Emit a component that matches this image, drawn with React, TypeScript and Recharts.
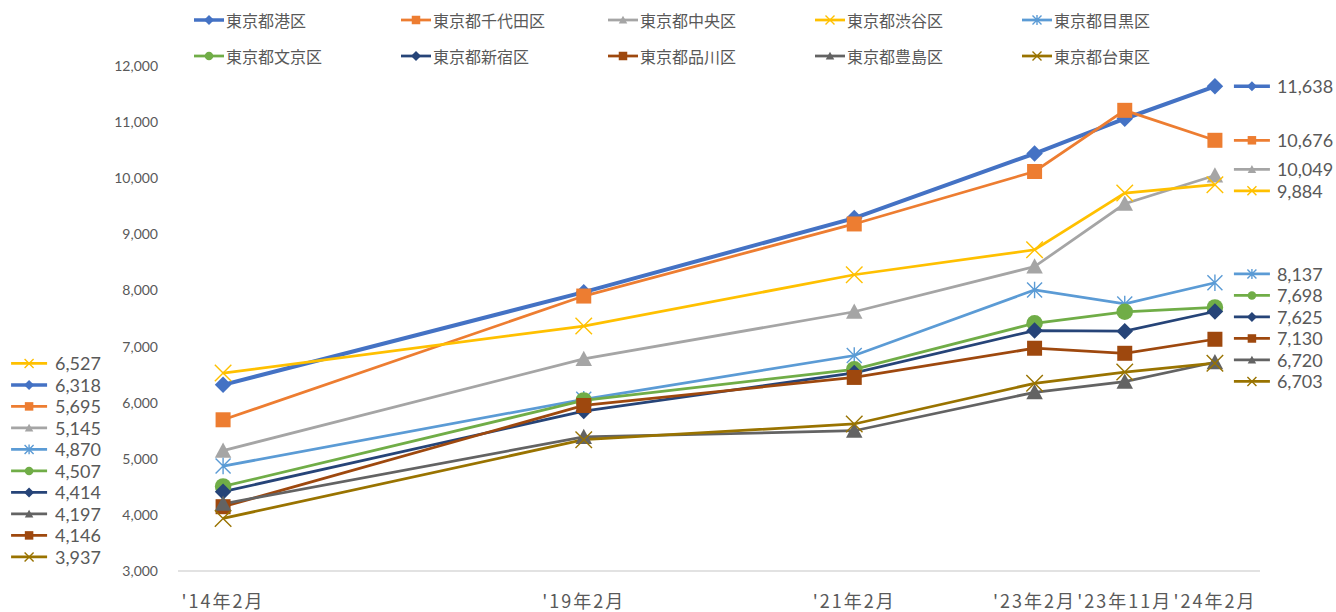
import React from 'react'
import { LineChart, Line, XAxis, YAxis } from 'recharts'

// survey periods and their slot on the (uneven) category axis
const periods = ["'14年2月", "'19年2月", "'21年2月", "'23年2月", "'23年11月", "'24年2月"]
const slots = [0, 4, 7, 9, 10, 11]
const yTicks = [3000, 4000, 5000, 6000, 7000, 8000, 9000, 10000, 11000, 12000]

const minato = [6318, 7970, 9290, 10440, 11060, 11638]
const chiyoda = [5695, 7900, 9185, 10120, 11210, 10676]
const chuo = [5145, 6780, 7620, 8425, 9545, 10049]
const shibuya = [6527, 7365, 8280, 8725, 9735, 9884]
const meguro = [4870, 6060, 6840, 8010, 7760, 8137]
const bunkyo = [4507, 6040, 6595, 7415, 7620, 7698]
const shinjuku = [4414, 5850, 6530, 7285, 7275, 7625]
const shinagawa = [4146, 5950, 6450, 6970, 6880, 7130]
const toshima = [4197, 5390, 5500, 6185, 6375, 6720]
const taito = [3937, 5340, 5620, 6345, 6545, 6703]

type Shape = 'diamond' | 'square' | 'triangle' | 'x' | 'star' | 'circle'

const series: { key: string; name: string; values: number[]; color: string; shape: Shape; width: number }[] = [
  { key: 'minato', name: '東京都港区', values: minato, color: '#4472C4', shape: 'diamond', width: 4 },
  { key: 'chiyoda', name: '東京都千代田区', values: chiyoda, color: '#ED7D31', shape: 'square', width: 2.75 },
  { key: 'chuo', name: '東京都中央区', values: chuo, color: '#A5A5A5', shape: 'triangle', width: 2.75 },
  { key: 'shibuya', name: '東京都渋谷区', values: shibuya, color: '#FFC000', shape: 'x', width: 2.75 },
  { key: 'meguro', name: '東京都目黒区', values: meguro, color: '#5B9BD5', shape: 'star', width: 2.75 },
  { key: 'bunkyo', name: '東京都文京区', values: bunkyo, color: '#70AD47', shape: 'circle', width: 2.75 },
  { key: 'shinjuku', name: '東京都新宿区', values: shinjuku, color: '#264478', shape: 'diamond', width: 2.75 },
  { key: 'shinagawa', name: '東京都品川区', values: shinagawa, color: '#9E480E', shape: 'square', width: 2.75 },
  { key: 'toshima', name: '東京都豊島区', values: toshima, color: '#636363', shape: 'triangle', width: 2.75 },
  { key: 'taito', name: '東京都台東区', values: taito, color: '#997300', shape: 'x', width: 2.75 },
]

const W = 1336
const H = 612
const MARGIN = { top: 66, right: 76, bottom: 0, left: 118 }
const Y_AXIS_W = 60
const X_AXIS_H = 41
const Y_MIN = 3000
const Y_MAX = 12000
const PX_PER_UNIT = (H - MARGIN.top - X_AXIS_H) / (Y_MAX - Y_MIN)
const LABEL_GAP = 21.5 / PX_PER_UNIT

const TEXT = '#595959'
const NUM_FONT = "Lato, 'Noto Sans CJK JP', sans-serif"
const JP_FONT = "'Noto Sans CJK JP', sans-serif"

const data = periods.map((p, i) => {
  const row: Record<string, number | string> = { slot: slots[i], period: p }
  series.forEach((s) => { row[s.key] = s.values[i] })
  return row
})

// push end labels apart so they don't overlap (values space)
function spreadLabels(vals: number[], gap: number): number[] {
  const order = vals.map((_, i) => i).sort((a, b) => vals[b] - vals[a])
  let clusters = order.map((i) => ({ members: [i], center: vals[i] }))
  let merged = true
  while (merged) {
    merged = false
    for (let c = 0; c < clusters.length - 1; c++) {
      const a = clusters[c]
      const b = clusters[c + 1]
      const bottomA = a.center - ((a.members.length - 1) / 2) * gap
      const topB = b.center + ((b.members.length - 1) / 2) * gap
      if (bottomA - topB < gap) {
        const members = [...a.members, ...b.members]
        const center = members.reduce((sum, i) => sum + vals[i], 0) / members.length
        clusters.splice(c, 2, { members, center })
        merged = true
        break
      }
    }
  }
  const out: number[] = new Array(vals.length)
  clusters.forEach((cl) =>
    cl.members.forEach((i, k) => { out[i] = cl.center + ((cl.members.length - 1) / 2 - k) * gap })
  )
  return out
}

const last = periods.length - 1
const leftSpread = spreadLabels(series.map((s) => s.values[0]), LABEL_GAP)
const rightSpread = spreadLabels(series.map((s) => s.values[last]), LABEL_GAP)

function Marker({ shape, cx, cy, size, color }: { shape: Shape; cx: number; cy: number; size: number; color: string }) {
  const r = size / 2
  switch (shape) {
    case 'diamond':
      return <path d={`M${cx},${cy - r}L${cx + r},${cy}L${cx},${cy + r}L${cx - r},${cy}Z`} fill={color} />
    case 'square':
      return <rect x={cx - r} y={cy - r} width={size} height={size} fill={color} />
    case 'triangle':
      return <path d={`M${cx},${cy - r}L${cx + r},${cy + r * 0.85}L${cx - r},${cy + r * 0.85}Z`} fill={color} />
    case 'circle':
      return <circle cx={cx} cy={cy} r={r} fill={color} />
    case 'x':
      return (
        <path d={`M${cx - r},${cy - r}L${cx + r},${cy + r}M${cx + r},${cy - r}L${cx - r},${cy + r}`}
          stroke={color} strokeWidth={1.4} fill="none" />
      )
    case 'star':
      return (
        <path d={`M${cx - r},${cy - r}L${cx + r},${cy + r}M${cx + r},${cy - r}L${cx - r},${cy + r}M${cx},${cy - r * 1.1}L${cx},${cy + r * 1.1}`}
          stroke={color} strokeWidth={1.4} fill="none" />
      )
  }
  return null
}

function KeyIcon({ s, x1, x2, y, lw }: { s: typeof series[number]; x1: number; x2: number; y: number; lw: number }) {
  const mid = (x1 + x2) / 2
  const small = s.shape === 'x' || s.shape === 'star' ? 9 : s.shape === 'diamond' ? 10 : 8.5
  return (
    <g>
      <line x1={x1} x2={x2} y1={y} y2={y} stroke={s.color} strokeWidth={lw} />
      <Marker shape={s.shape} cx={mid} cy={y} size={small} color={s.color} />
    </g>
  )
}

const makeDot = (s: typeof series[number], si: number) => (p: any) => {
  const { cx, cy, index } = p
  if (cx == null || cy == null) return <g key={`${s.key}-${index}`} />
  const size = s.shape === 'square' ? 15 : s.shape === 'star' ? 15 : 16.5
  let side: React.ReactNode = null
  if (index === 0 || index === last) {
    const value = s.values[index]
    const disp = index === 0 ? leftSpread[si] : rightSpread[si]
    const ly = cy - (disp - value) * PX_PER_UNIT
    const x1 = index === 0 ? cx - 212 : cx + 19
    const tx = index === 0 ? cx - 168 : cx + 62
    side = (
      <g>
        <KeyIcon s={s} x1={x1} x2={x1 + 36} y={ly} lw={s.key === 'minato' ? 3.5 : 2.75} />
        <text x={tx} y={ly} dominantBaseline="central" fontSize={18} fill={TEXT} fontFamily={NUM_FONT}>
          {value.toLocaleString('en-US')}
        </text>
      </g>
    )
  }
  return (
    <g key={`${s.key}-${index}`}>
      <Marker shape={s.shape} cx={cx} cy={cy} size={size} color={s.color} />
      {side}
    </g>
  )
}

function PeriodTick({ x, y, payload }: any) {
  const label = periods[slots.indexOf(payload.value)]
  return (
    <text x={x} y={y + 29} textAnchor="middle" dominantBaseline="central" fontSize={18}
      letterSpacing={2} fill={TEXT} fontFamily={JP_FONT}>
      {label}
    </text>
  )
}

const legendCols = [194, 401, 608, 815, 1022]
const legendRows = [20, 56]

export default function App() {
  return (
    <div style={{ position: 'absolute', left: 0, top: 0, width: W, height: H, background: '#fff' }}>
      <LineChart width={W} height={H} data={data} margin={MARGIN}>
        <XAxis
          type="number"
          dataKey="slot"
          domain={[-0.5, 11.5]}
          ticks={slots}
          interval={0}
          height={X_AXIS_H}
          tickSize={0}
          tickMargin={0}
          tickLine={false}
          axisLine={{ stroke: '#D9D9D9', strokeWidth: 1.5 }}
          tick={<PeriodTick />}
        />
        <YAxis
          type="number"
          domain={[Y_MIN, Y_MAX]}
          ticks={yTicks}
          width={Y_AXIS_W}
          axisLine={false}
          tickLine={false}
          tickSize={0}
          tickMargin={20}
          tick={{ fontSize: 14, fill: TEXT, fontFamily: NUM_FONT }}
          tickFormatter={(v: number) => v.toLocaleString('en-US')}
        />
        {series.map((s, si) => (
          <Line
            key={s.key}
            type="linear"
            dataKey={s.key}
            name={s.name}
            stroke={s.color}
            strokeWidth={s.width}
            dot={makeDot(s, si)}
            activeDot={false}
            isAnimationActive={false}
          />
        ))}
      </LineChart>
      <svg width={W} height={80} style={{ position: 'absolute', left: 0, top: 0, pointerEvents: 'none' }}>
        {series.map((s, i) => {
          const x = legendCols[i % 5]
          const y = legendRows[Math.floor(i / 5)]
          return (
            <g key={s.key}>
              <KeyIcon s={s} x1={x} x2={x + 30} y={y} lw={s.key === 'minato' ? 3.5 : 2.75} />
              <text x={x + 32} y={y} dominantBaseline="central" fontSize={16} fill={TEXT} fontFamily={JP_FONT}>
                {s.name}
              </text>
            </g>
          )
        })}
      </svg>
    </div>
  )
}
